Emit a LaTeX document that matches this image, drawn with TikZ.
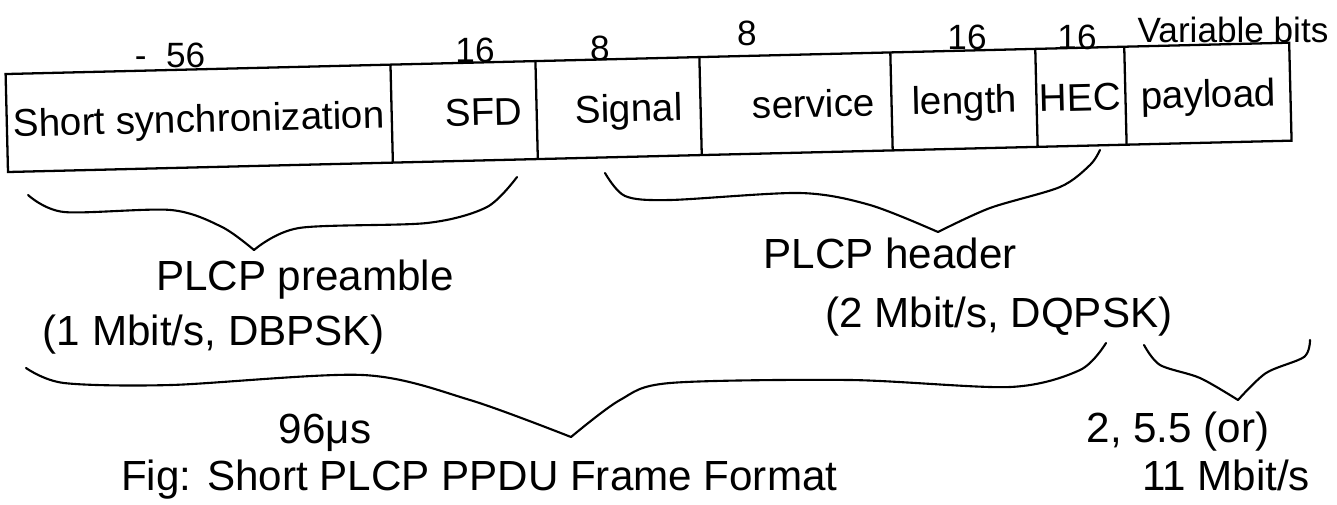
\documentclass[tikz,border=0pt]{standalone}
\usepackage{fontspec}
\setmainfont{Liberation Sans}

\begin{document}
\begin{tikzpicture}[x=0.02cm,y=0.02cm,line width=1.3pt,
    cell/.style={font=\fontsize{22}{26}\selectfont,anchor=base,inner sep=0pt},
    bits/.style={font=\fontsize{20}{24}\selectfont,inner sep=0pt},
    lbl/.style={font=\fontsize{24}{28}\selectfont,inner sep=0pt},
    brace/.style={line width=1.2pt,line cap=round,line join=round}]
  \useasboundingbox (0,0) rectangle (1337,-504);

  % the frame, tilted a little as in the sketch
  \begin{scope}[rotate around={1.4:(8,-172)},transform shape]
    \draw (8,-172) rectangle (1292,-74);
    \foreach \x in {393,538,702,893,1038,1127}
      \draw (\x,-172) -- (\x,-74);
    \node[cell] (sync) at (200,-137) {Short synchronization};
    \node[cell] (sfd) at (485,-137) {SFD};
    \node[cell] (signal) at (630,-137) {Signal};
    \node[cell] (service) at (815,-137) {service};
    \node[cell] (length) at (966,-137) {length};
    \node[cell] (hec) at (1082,-137) {HEC};
    \node[cell] (payload) at (1210,-137) {payload};
  \end{scope}

  % field sizes
  \node[bits] (b56) at (170,-55) {-~~56};
  \node[bits] (b16a) at (475,-50) {16};
  \node[bits] (b8a) at (600,-48) {8};
  \node[bits] (b8b) at (747,-33) {8};
  \node[bits] (b16b) at (967,-37) {16};
  \node[bits] (b16c) at (1077,-37) {16};
  \node[bits] (var) at (1233,-30) {Variable bits};

  % brace ends and tips
  \coordinate (preL) at (28,-195);  \coordinate (preT) at (254,-250);  \coordinate (preR) at (517,-177);
  \coordinate (hdrL) at (605,-173); \coordinate (hdrT) at (938,-232);  \coordinate (hdrR) at (1100,-150);
  \coordinate (bigL) at (26,-368);  \coordinate (bigT) at (571,-437);  \coordinate (bigR) at (1106,-343);
  \coordinate (smL) at (1144,-345); \coordinate (smT) at (1238,-400);  \coordinate (smR) at (1310,-340);

  \draw[brace] plot[smooth] coordinates {(preL) (64,-212) (171,-210) (222,-227) (preT)};
  \draw[brace] plot[smooth] coordinates {(preT) (299,-228) (427,-223) (487,-207) (preR)};
  \draw[brace] plot[smooth] coordinates {(hdrL) (625,-196) (670,-200) (800,-193) (870,-205) (hdrT)};
  \draw[brace] plot[smooth] coordinates {(hdrT) (990,-208) (1060,-187) (1090,-165) (hdrR)};
  \draw[brace] plot[smooth] coordinates {(bigL) (64,-383) (171,-385) (363,-375) (470,-400) (bigT)};
  \draw[brace] plot[smooth] coordinates {(bigT) (620,-400) (670,-383) (850,-380) (1010,-387) (1080,-370) (bigR)};
  \draw[brace] plot[smooth] coordinates {(smL) (1160,-365) (1200,-378) (smT)};
  \draw[brace] plot[smooth] coordinates {(smT) (1266,-373) (1304,-357) (smR)};

  % what the braces mean
  \node[lbl] (pre) at (305,-280) {PLCP preamble};
  \node[lbl] (prerate) at (214,-335) {(1 Mbit/s, DBPSK)};
  \node[lbl] (hdr) at (890,-253) {PLCP header};
  \node[lbl] (hdrrate) at (999,-317) {(2 Mbit/s, DQPSK)};
  \node[lbl] (dur) at (325,-433) {96μs};
  \node[lbl] (rate) at (1178,-432) {2, 5.5 (or)};
  \node[lbl] (rate2) at (1226,-475) {11 Mbit/s};
  \node[lbl,anchor=base west] (cap) at (120,-490)
    {Fig: Short PLCP PPDU Frame Format};
\end{tikzpicture}
\end{document}
